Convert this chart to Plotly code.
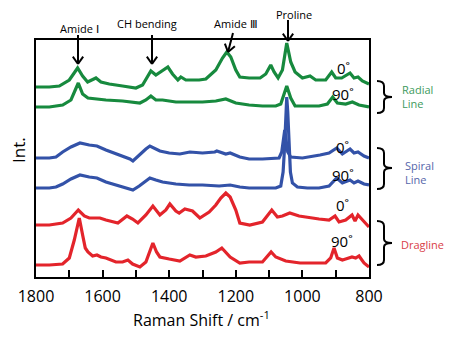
import math
import plotly.graph_objects as go

# ---------------- data (Raman shift in cm-1, intensity in arbitrary offset units) -------------
wn_radial_0 = [1800,1760,1730,1700,1675,1660,1645,1620,1605,1580,1540,1500,1480,1455,1440,1425,1404,1390,1374,1365,1350,1310,1290,1260,1240,1227,1215,1200,1188,1160,1127,1110,1095,1085,1073,1060,1047,1035,1022,1000,977,960,930,912,900,882,870,857,845,833,820,800]
int_radial_0 = [190,190,191,197,209,201,195,199,195,193,191,189,192,206,202,205,210,203,197,200,197,197,198,207,219,225,220,207,200,199,199,203,212,205,199,207,234,215,205,199,201,197,197,205,199,199,201,204,199,200,196,193]

wn_radial_90 = [1800,1760,1720,1695,1673,1660,1644,1620,1590,1540,1500,1488,1470,1455,1440,1420,1380,1340,1300,1260,1230,1200,1160,1120,1080,1065,1047,1035,1022,990,950,925,909,895,870,850,830,800]
int_radial_90 = [170,170,172,177,194,183,179,178,177,176,175,174,177,181,177,177,175,175,175,176,178,174,172,171,171,173,191,179,171,171,171,173,180,174,173,175,172,170]

wn_spiral_0 = [1800,1760,1740,1720,1695,1668,1640,1617,1590,1550,1518,1509,1490,1470,1458,1440,1428,1400,1368,1338,1300,1263,1257,1230,1217,1188,1160,1120,1070,1062,1057,1053,1049,1044,1035,1000,947,920,897,880,857,845,833,815,800]
int_spiral_0 = [119,119,120,125,130,134,132,131,127,122,118,116,122,128,131,128,126,124,123,125,124,125,126,123,124,120,118,118,119,125,135,147,137,125,120,119,122,124,129,123,128,124,125,121,119]

wn_spiral_90 = [1800,1760,1740,1720,1695,1668,1640,1617,1590,1550,1518,1509,1490,1470,1458,1440,1420,1380,1340,1300,1250,1217,1188,1160,1120,1080,1065,1058,1054,1050,1047,1044,1040,1036,1030,1015,985,950,920,897,880,857,845,833,815,800]
int_spiral_90 = [89,89,90,93,98,102,100,99,95,91,88,87,91,96,99,97,95,93,92,92,91,92,90,89,89,89,91,105,127,165,180,165,127,105,94,90,89,89,91,99,94,97,94,96,93,92]

wn_drag_0 = [1800,1760,1720,1695,1673,1655,1640,1617,1608,1590,1570,1554,1527,1510,1494,1470,1449,1428,1410,1398,1380,1370,1353,1330,1308,1280,1260,1245,1230,1217,1200,1188,1158,1120,1092,1075,1060,1038,1010,977,950,920,902,890,870,851,842,833,815,800]
int_drag_0 = [52,52,54,59,67,61,59,59,59,57,55,54,61,58,54,62,71,62,67,73,66,64,68,66,59,65,72,79,84,80,67,54,52,55,67,60,61,64,61,59,58,57,61,55,57,62,56,62,55,50]

wn_drag_90 = [1800,1760,1720,1700,1685,1670,1660,1652,1644,1630,1617,1605,1590,1560,1540,1524,1510,1488,1470,1449,1438,1428,1400,1368,1338,1320,1290,1260,1242,1230,1217,1188,1160,1120,1094,1080,1050,1007,960,930,915,905,895,880,870,851,840,830,815,800]
int_drag_90 = [12,12,13,19,37,59,42,29,25,21,22,20,19,15,15,17,13,10,15,34,25,20,18,16,22,20,21,25,29,25,20,14,15,15,25,20,16,14,14,14,19,29,19,17,18,20,19,21,14,10]

peak_labels = ["Amide Ⅰ", "CH bending", "Amide Ⅲ", "Proline"]
group_labels = ["Radial<br>Line", "Spiral<br>Line", "Dragline"]

GREEN = "#178a3e"
BLUE = "#3352a8"
RED = "#e3242b"
GREEN_T = "#3d9a5c"
BLUE_T = "#5566aa"
RED_T = "#d94048"

W, H = 474, 340
L, R, T, B = 36, 369, 40, 277


def px(xp):
    return (xp - L) / (R - L)


def py(yp):
    return (B - yp) / (B - T)


fig = go.Figure()
series = [
    (wn_radial_0, int_radial_0, GREEN),
    (wn_radial_90, int_radial_90, GREEN),
    (wn_spiral_90, int_spiral_90, BLUE),
    (wn_spiral_0, int_spiral_0, BLUE),
    (wn_drag_0, int_drag_0, RED),
    (wn_drag_90, int_drag_90, RED),
]
for xs, ys, c in series:
    fig.add_trace(go.Scatter(x=xs, y=ys, mode="lines",
                             line=dict(color=c, width=3.2), showlegend=False,
                             hoverinfo="skip"))

annotations = []
shapes = []


def txt(t, x, y, size, color="black", xanchor="center", **kw):
    annotations.append(dict(text=t, x=px(x), y=py(y), xref="paper", yref="paper",
                            xanchor=xanchor, yanchor="middle", showarrow=False,
                            font=dict(size=size, color=color, family="Open Sans"), **kw))


# angle labels
angle_pos = [("0˚", 343, 68), ("90˚", 343, 94), ("0˚", 342, 147), ("90˚", 343, 175),
             ("0˚", 342, 205), ("90˚", 342, 241)]
for t, x, y in angle_pos:
    txt(t, x, y, 15)

# peak labels and arrows
label_pos = [(79, 29), (147, 24), (236, 24), (294, 14)]
for t, (x, y) in zip(peak_labels, label_pos):
    txt(t, x, y, 11)

arrows = [((78, 35), (78, 64)), ((152, 35), (152, 64)), ((233, 33), (228, 52)), ((288, 20), (288, 41))]
for (x0, y0), (x1, y1) in arrows:
    shapes.append(dict(type="line", xref="paper", yref="paper", x0=px(x0), y0=py(y0),
                       x1=px(x1), y1=py(y1), line=dict(color="black", width=2)))
    dx, dy = x1 - x0, y1 - y0
    n = math.hypot(dx, dy)
    ux, uy = dx / n, dy / n
    for sgn in (1, -1):
        ang = math.radians(35) * sgn
        hx = -(ux * math.cos(ang) - uy * math.sin(ang)) * 9
        hy = -(ux * math.sin(ang) + uy * math.cos(ang)) * 9
        shapes.append(dict(type="line", xref="paper", yref="paper", x0=px(x1), y0=py(y1),
                           x1=px(x1 + hx), y1=py(y1 + hy), line=dict(color="black", width=2)))

# brackets
brackets = [(81, 97, 113), (148, 168, 189), (221, 243, 265)]
for top, mid, bot in brackets:
    xl, xv, xr = 377, 384, 392
    pts = f"M {px(xl)},{py(top)} Q {px(xv)},{py(top)} {px(xv)},{py(top+5)} L {px(xv)},{py(mid-4)} " \
          f"Q {px(xv)},{py(mid)} {px(xr)},{py(mid)} Q {px(xv)},{py(mid)} {px(xv)},{py(mid+4)} " \
          f"L {px(xv)},{py(bot-5)} Q {px(xv)},{py(bot)} {px(xl)},{py(bot)}"
    shapes.append(dict(type="path", xref="paper", yref="paper", path=pts,
                       line=dict(color="black", width=2)))

group_pos = [(400, 96, GREEN_T), (403, 172, BLUE_T), (399, 244, RED_T)]
for t, (x, y, c) in zip(group_labels, group_pos):
    txt(t, x, y, 11, color=c, xanchor="left", align="left")

# axis titles
txt("Int.", 18, 150, 17, textangle=-90)
txt("Raman Shift / cm<sup>-1</sup>", 201, 319, 16)

fig.update_layout(
    width=W, height=H,
    margin=dict(l=L, r=W - R, t=T, b=H - B),
    paper_bgcolor="white", plot_bgcolor="white",
    annotations=annotations, shapes=shapes,
    xaxis=dict(range=[1800, 800], tick0=800, dtick=200,
               ticks="inside", ticklen=7, tickwidth=1.5, tickcolor="black",
               minor=dict(ticks="inside", dtick=100, ticklen=7, tickwidth=1.5, tickcolor="black"),
               showline=True, linecolor="black", linewidth=2, mirror=True,
               showgrid=False, zeroline=False, ticklabelstandoff=4,
               tickfont=dict(size=16, color="black", family="Open Sans")),
    yaxis=dict(range=[0, 237], showticklabels=False, ticks="",
               showline=True, linecolor="black", linewidth=2, mirror=True,
               showgrid=False, zeroline=False),
)

fig.write_html("out.html")
